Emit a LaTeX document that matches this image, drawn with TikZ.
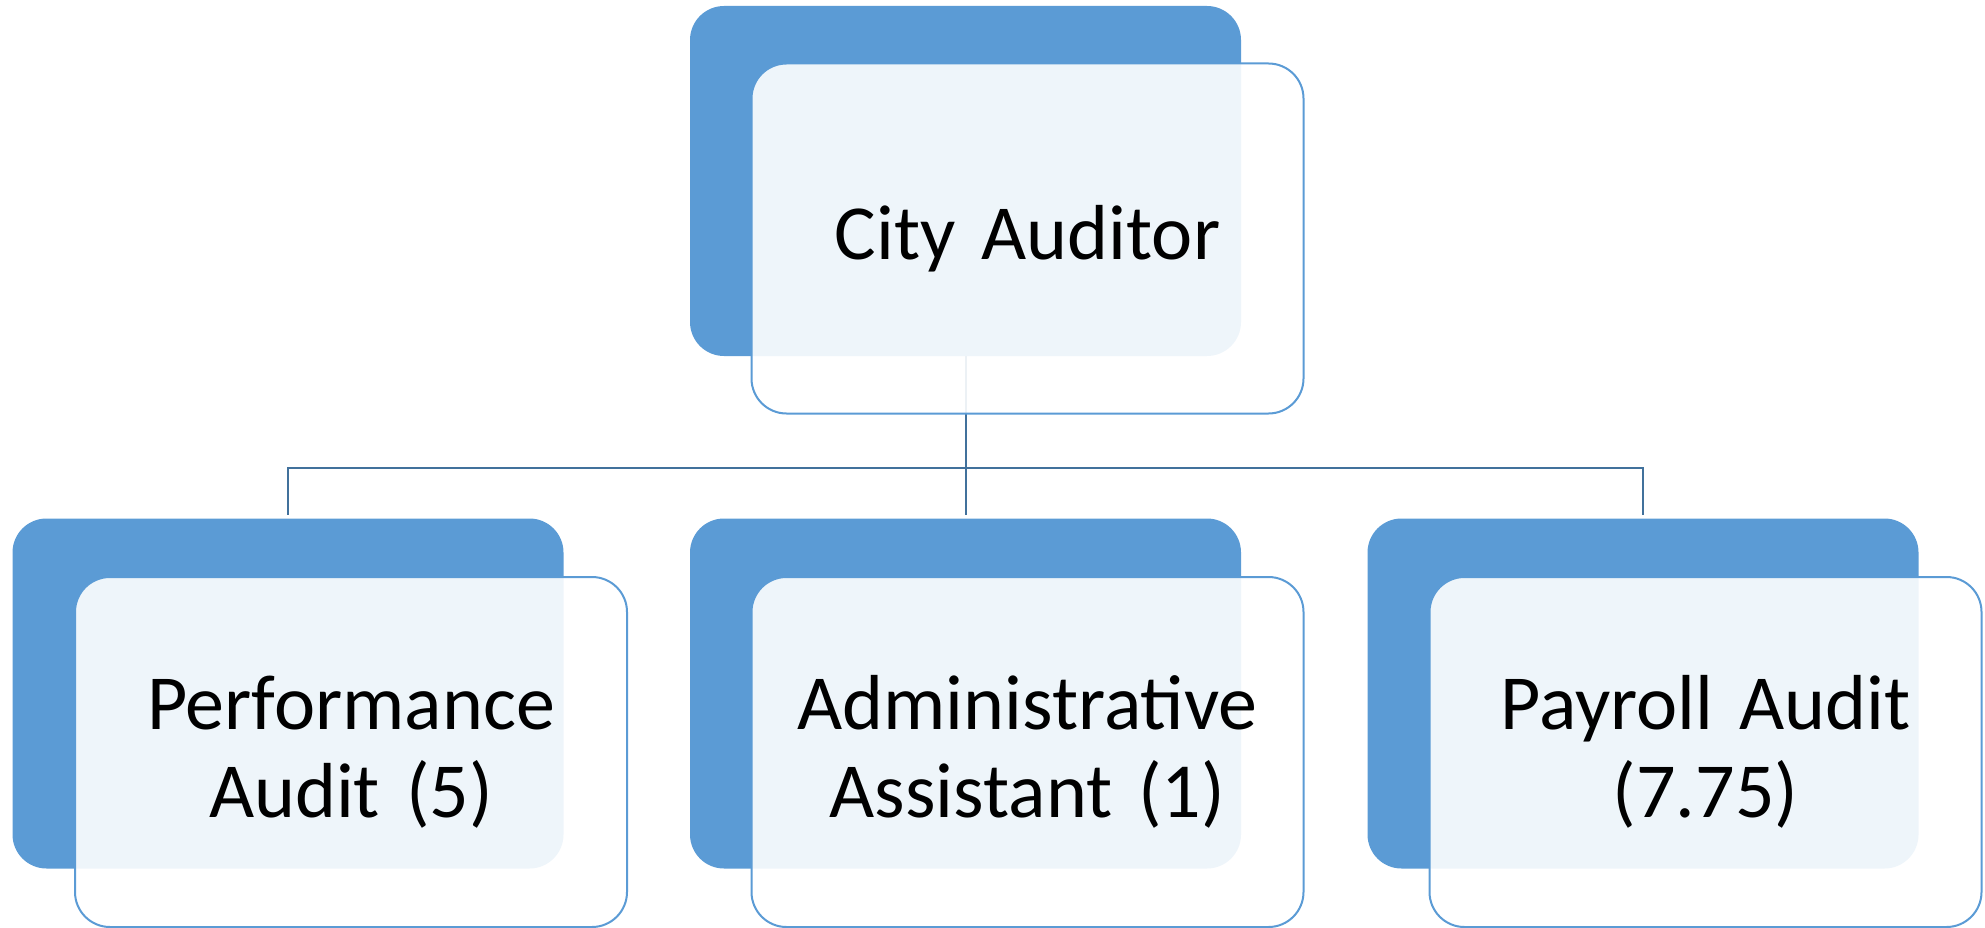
\documentclass[tikz,border=0pt]{standalone}
\usepackage{fontspec}
\setmainfont{Carlito}
\definecolor{bk}{HTML}{5B9BD5}
\definecolor{ln}{HTML}{41719C}
\begin{document}
\begin{tikzpicture}[x=1pt,y=-1pt,
 backbox/.style={fill=bk, draw=none, rounded corners=34pt, minimum width=551pt, minimum height=350pt, inner sep=0pt},
 frontbox/.style={fill=white, fill opacity=0.9, text opacity=1, draw=bk, line width=2pt, rounded corners=35pt, minimum width=552pt, minimum height=350pt, align=center, font=\fontsize{78}{88}\selectfont, inner sep=0pt, text width=540pt},
 link/.style={draw=ln, line width=2pt}]
\useasboundingbox (0,0) rectangle (1985,928);
% back boxes
\node[backbox] (tb) at (965.5,181) {};
\node[backbox] (lb) at (288,693.5) {};
\node[backbox] (mb) at (965.5,693.5) {};
\node[backbox] (rb) at (1643,693.5) {};
% connectors
\coordinate (bus) at (965.5,468);
\draw[link] (tb.south) -- (bus);
\draw[link, shorten >=3pt] (bus) -| (lb.north);
\draw[link, shorten >=3pt] (bus) -| (rb.north);
\draw[link, shorten >=3pt] (bus) -- (mb.north);
% front boxes
\node[frontbox] (tf) at (1027.5,238.5) {City Auditor};
\node[frontbox] (lf) at (351,752) {Performance\\Audit (5)};
\node[frontbox] (mf) at (1027.5,752) {Administrative\\Assistant (1)};
\node[frontbox] (rf) at (1705.5,752) {Payroll Audit\\(7.75)};
\end{tikzpicture}
\end{document}
